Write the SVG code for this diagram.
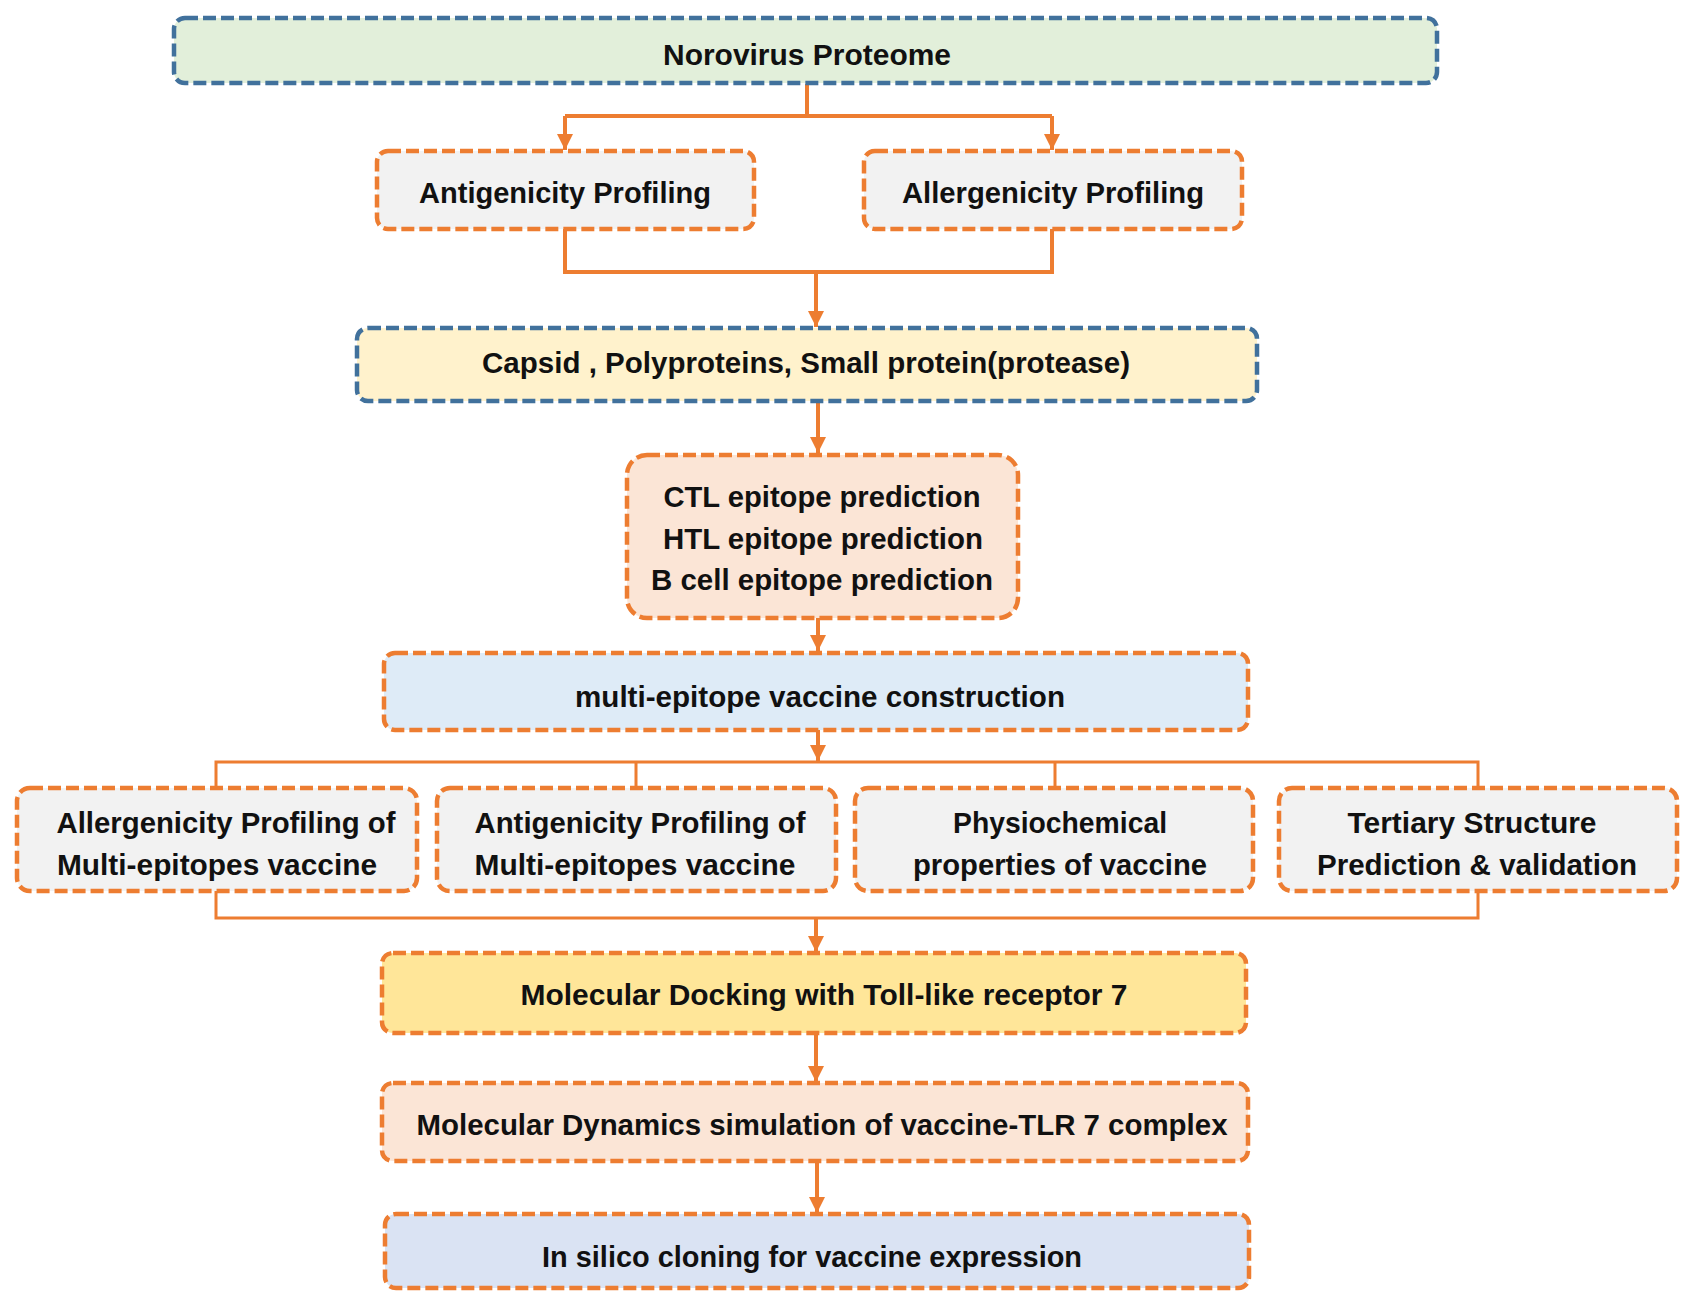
<svg xmlns="http://www.w3.org/2000/svg" width="1684" height="1291" viewBox="0 0 1684 1291">
  <style>
    .box { stroke-width: 4.5; stroke-dasharray: 13 5; }
    .blue { stroke: #41719c; }
    .orange { stroke: #ed7d31; }
    .lbl { font-family: "Liberation Sans", Arial, sans-serif; font-weight: bold; font-size: 29px; fill: #111; text-anchor: middle; dominant-baseline: central; }
    .wire { fill: none; stroke: #ed7d31; stroke-width: 4; }
    .thin { fill: none; stroke: #ed7d31; stroke-width: 3; }
  </style>
  <defs>
    <marker id="head" markerUnits="userSpaceOnUse" markerWidth="16" markerHeight="16" viewBox="0 0 16 16" refX="16" refY="8" orient="auto">
      <path d="M0,0 L16,8 L0,16 Z" fill="#ed7d31"/>
    </marker>
  </defs>
  <rect width="1684" height="1291" fill="#ffffff"/>

  <!-- connectors -->
  <g id="connectors">
    <path class="wire" d="M807,84 V116 M565,116 H1052"/>
    <path class="wire" d="M565,116 V150" marker-end="url(#head)"/>
    <path class="wire" d="M1052,116 V150" marker-end="url(#head)"/>
    <path class="wire" d="M565,229 V272 H1052 V229"/>
    <path class="wire" d="M816,272 V327" marker-end="url(#head)"/>
    <path class="wire" d="M818,401 V453" marker-end="url(#head)"/>
    <path class="wire" d="M818,618 V651" marker-end="url(#head)"/>
    <path class="wire" d="M818,730 V761" marker-end="url(#head)"/>
    <path class="thin" d="M216,787 V762 H1478 V787 M636,762 V787 M1055,762 V787"/>
    <path class="thin" d="M216,891 V918 H1478 V891"/>
    <path class="wire" d="M816,918 V952" marker-end="url(#head)"/>
    <path class="wire" d="M816,1033 V1082" marker-end="url(#head)"/>
    <path class="wire" d="M817,1162 V1213" marker-end="url(#head)"/>
  </g>

  <g id="proteome">
    <rect class="box blue" x="174" y="18" width="1263" height="65" rx="11" fill="#e2efda"/>
    <text class="lbl" x="807" y="55" textLength="288" lengthAdjust="spacingAndGlyphs">Norovirus Proteome</text>
  </g>
  <g id="antigenicity">
    <rect class="box orange" x="377" y="151" width="377" height="78" rx="11" fill="#f2f2f2"/>
    <text class="lbl" x="565" y="193" textLength="292" lengthAdjust="spacingAndGlyphs">Antigenicity Profiling</text>
  </g>
  <g id="allergenicity">
    <rect class="box orange" x="864" y="151" width="378" height="78" rx="11" fill="#f2f2f2"/>
    <text class="lbl" x="1053" y="193" textLength="302" lengthAdjust="spacingAndGlyphs">Allergenicity Profiling</text>
  </g>
  <g id="proteins">
    <rect class="box blue" x="357" y="328" width="900" height="73" rx="11" fill="#fff2cc"/>
    <text class="lbl" x="806" y="363" textLength="648" lengthAdjust="spacingAndGlyphs">Capsid , Polyproteins, Small protein(protease)</text>
  </g>
  <g id="epitopes">
    <rect class="box orange" x="627" y="455" width="391" height="163" rx="20" fill="#fbe5d6"/>
    <text class="lbl" x="822" y="497" textLength="317" lengthAdjust="spacingAndGlyphs">CTL epitope prediction</text>
    <text class="lbl" x="823" y="539" textLength="320" lengthAdjust="spacingAndGlyphs">HTL epitope prediction</text>
    <text class="lbl" x="822" y="580" textLength="342" lengthAdjust="spacingAndGlyphs">B cell epitope prediction</text>
  </g>
  <g id="construction">
    <rect class="box orange" x="384" y="653" width="864" height="77" rx="11" fill="#deebf7"/>
    <text class="lbl" x="820" y="697" textLength="490" lengthAdjust="spacingAndGlyphs">multi-epitope vaccine construction</text>
  </g>
  <g id="allergen-vaccine">
    <rect class="box orange" x="17" y="788" width="400" height="103" rx="13" fill="#f2f2f2"/>
    <text class="lbl" x="226" y="823" textLength="339" lengthAdjust="spacingAndGlyphs">Allergenicity Profiling of</text>
    <text class="lbl" x="217" y="865" textLength="320" lengthAdjust="spacingAndGlyphs">Multi-epitopes vaccine</text>
  </g>
  <g id="antigen-vaccine">
    <rect class="box orange" x="437" y="788" width="399" height="103" rx="13" fill="#f2f2f2"/>
    <text class="lbl" x="640" y="823" textLength="331" lengthAdjust="spacingAndGlyphs">Antigenicity Profiling of</text>
    <text class="lbl" x="635" y="865" textLength="321" lengthAdjust="spacingAndGlyphs">Multi-epitopes vaccine</text>
  </g>
  <g id="physiochemical">
    <rect class="box orange" x="855" y="788" width="398" height="103" rx="13" fill="#f2f2f2"/>
    <text class="lbl" x="1060" y="823" textLength="214" lengthAdjust="spacingAndGlyphs">Physiochemical</text>
    <text class="lbl" x="1060" y="865" textLength="294" lengthAdjust="spacingAndGlyphs">properties of vaccine</text>
  </g>
  <g id="tertiary">
    <rect class="box orange" x="1279" y="788" width="398" height="103" rx="13" fill="#f2f2f2"/>
    <text class="lbl" x="1472" y="823" textLength="249" lengthAdjust="spacingAndGlyphs">Tertiary Structure</text>
    <text class="lbl" x="1477" y="865" textLength="320" lengthAdjust="spacingAndGlyphs">Prediction &amp; validation</text>
  </g>
  <g id="docking">
    <rect class="box orange" x="382" y="953" width="864" height="80" rx="11" fill="#ffe699"/>
    <text class="lbl" x="824" y="995" textLength="607" lengthAdjust="spacingAndGlyphs">Molecular Docking with Toll-like receptor 7</text>
  </g>
  <g id="dynamics">
    <rect class="box orange" x="382" y="1083" width="866" height="78" rx="11" fill="#fbe5d6"/>
    <text class="lbl" x="822" y="1125" textLength="811" lengthAdjust="spacingAndGlyphs">Molecular Dynamics simulation of vaccine-TLR 7 complex</text>
  </g>
  <g id="cloning">
    <rect class="box orange" x="385" y="1214" width="864" height="74" rx="11" fill="#dae3f3"/>
    <text class="lbl" x="812" y="1257" textLength="540" lengthAdjust="spacingAndGlyphs">In silico cloning for vaccine expression</text>
  </g>
</svg>
